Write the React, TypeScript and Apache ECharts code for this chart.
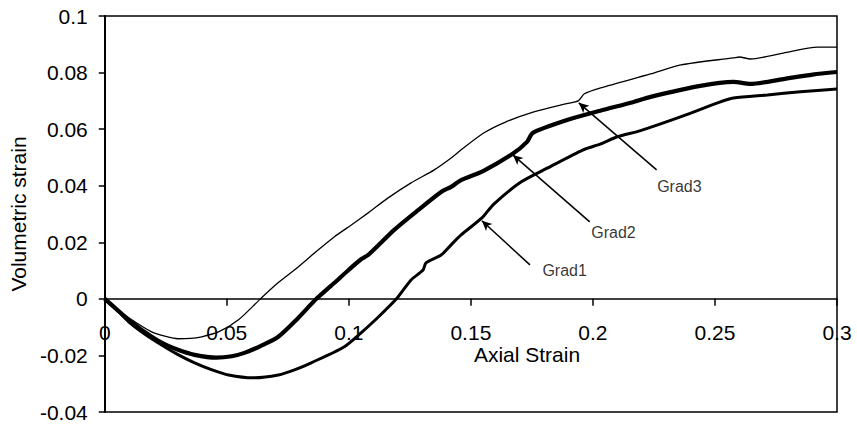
import React, { useEffect, useRef } from "react";
import * as echarts from "echarts";

// Axial strain (x) and volumetric strain (y) for the three gradings
const grad1Strain = [0, 0.005, 0.0098, 0.0165, 0.0233, 0.03, 0.0368, 0.0437, 0.0507, 0.0609, 0.0711, 0.078, 0.0846, 0.098, 0.105, 0.112, 0.1195, 0.1255, 0.1304, 0.1316, 0.1378, 0.1419, 0.146, 0.1545, 0.1594, 0.1705, 0.1815, 0.196, 0.2032, 0.21, 0.2195, 0.237, 0.2514, 0.2576, 0.2715, 0.285, 0.3];
const grad1Vol = [0, -0.0039, -0.0081, -0.0125, -0.0163, -0.0197, -0.0226, -0.025, -0.0269, -0.0279, -0.0269, -0.025, -0.0226, -0.017, -0.012, -0.0065, 0, 0.0067, 0.0102, 0.0127, 0.0155, 0.0191, 0.0226, 0.0286, 0.0335, 0.0413, 0.0463, 0.0527, 0.0548, 0.0573, 0.0595, 0.0647, 0.0694, 0.071, 0.0721, 0.0732, 0.0742];

const grad2Strain = [0, 0.005, 0.0098, 0.0165, 0.0233, 0.03, 0.0368, 0.0458, 0.052, 0.0572, 0.064, 0.0711, 0.079, 0.0867, 0.094, 0.1, 0.105, 0.1079, 0.1186, 0.1284, 0.1378, 0.1419, 0.146, 0.155, 0.167, 0.173, 0.1754, 0.1897, 0.203, 0.2167, 0.2236, 0.244, 0.2576, 0.2645, 0.278, 0.29, 0.3];
const grad2Vol = [0, -0.0038, -0.0074, -0.0118, -0.0155, -0.018, -0.0198, -0.0208, -0.0203, -0.0191, -0.0166, -0.0134, -0.007, 0, 0.0056, 0.0103, 0.014, 0.0155, 0.0244, 0.0314, 0.0378, 0.0396, 0.042, 0.0452, 0.0512, 0.0555, 0.0587, 0.0633, 0.0665, 0.0696, 0.0714, 0.0753, 0.0767, 0.076, 0.0777, 0.0793, 0.0802];

const grad3Strain = [0, 0.005, 0.0098, 0.0192, 0.025, 0.03, 0.035, 0.0397, 0.0466, 0.0548, 0.0638, 0.0705, 0.0777, 0.087, 0.094, 0.101, 0.1079, 0.1161, 0.1255, 0.135, 0.1419, 0.146, 0.1554, 0.1644, 0.1758, 0.187, 0.194, 0.1965, 0.2032, 0.2236, 0.236, 0.2576, 0.26, 0.2645, 0.278, 0.292, 0.3];
const grad3Vol = [0, -0.0036, -0.0067, -0.0117, -0.0133, -0.0141, -0.014, -0.0134, -0.0117, -0.0074, 0, 0.0053, 0.0102, 0.017, 0.0219, 0.0261, 0.0304, 0.0357, 0.041, 0.0456, 0.0498, 0.0527, 0.0587, 0.0626, 0.0661, 0.0686, 0.07, 0.0725, 0.0746, 0.0795, 0.0827, 0.0852, 0.0855, 0.0848, 0.0869, 0.089, 0.089];

// Callout arrows (tail -> head) and their captions, in data units
const calloutNames = ["Grad1", "Grad2", "Grad3"];
const calloutTail = [[0.1742, 0.012], [0.1987, 0.0272], [0.2261, 0.0456]];
const calloutHead = [[0.1545, 0.0276], [0.1672, 0.0509], [0.1942, 0.0693]];
const calloutText = [[0.1791, 0.0102], [0.1991, 0.0233], [0.2261, 0.0396]];

const Y_MIN = -0.04;
const Y_MAX = 0.1;

const FONT = "'Liberation Sans', Arial, sans-serif";

const zip = (xs: number[], ys: number[]) => xs.map((x, i) => [x, ys[i]]);

export default function App() {
  const ref = useRef<HTMLDivElement>(null);

  useEffect(() => {
    if (!ref.current) return;
    const chart = echarts.init(ref.current, undefined, { renderer: "svg" });

    const gridTop = 16;
    const gridBottom = 12;
    const plotH = 424 - gridTop - gridBottom;
    // lift the horizontal axis (line, ticks, labels) up to y = 0
    const zeroOffset = -(plotH * (0 - Y_MIN)) / (Y_MAX - Y_MIN);

    const curves = [
      { name: "Grad1", data: zip(grad1Strain, grad1Vol), width: 3 },
      { name: "Grad2", data: zip(grad2Strain, grad2Vol), width: 4.2 },
      { name: "Grad3", data: zip(grad3Strain, grad3Vol), width: 1.3 },
    ];

    const lineSeries = curves.map((c, i) => ({
      type: "line",
      name: c.name,
      data: c.data,
      showSymbol: false,
      symbol: "none",
      smooth: 0.25,
      lineStyle: { color: "#000", width: c.width },
      z: 3,
      markLine: {
        silent: true,
        symbol: ["none", "arrow"],
        symbolSize: [7, 10],
        label: { show: false },
        lineStyle: { color: "#000", width: 1.5, type: "solid" },
        data: [[{ coord: calloutTail[i] }, { coord: calloutHead[i] }]],
      },
    }));

    const captionSeries = {
      type: "scatter",
      data: calloutText.map((p, i) => ({ value: p, name: calloutNames[i] })),
      symbolSize: 1,
      itemStyle: { color: "transparent" },
      silent: true,
      label: {
        show: true,
        position: "right",
        distance: 0,
        formatter: (p: any) => p.name,
        color: "#000",
        fontFamily: FONT,
        fontSize: 16,
      },
    };

    chart.setOption({
      animation: false,
      backgroundColor: "#fff",
      grid: {
        left: 103,
        right: 20,
        top: gridTop,
        bottom: gridBottom,
        show: true,
        borderColor: "#000",
        borderWidth: 1.5,
        backgroundColor: "transparent",
      },
      xAxis: {
        type: "value",
        min: 0,
        max: 0.3,
        interval: 0.05,
        position: "bottom",
        offset: zeroOffset,
        axisLine: { onZero: false, lineStyle: { color: "#000", width: 1.5 } },
        axisTick: { show: true, inside: false, length: 7, lineStyle: { color: "#000", width: 1.5 } },
        axisLabel: { color: "#000", fontFamily: FONT, fontSize: 21, margin: 23, showMinLabel: true, showMaxLabel: true },
        splitLine: { show: false },
      },
      yAxis: {
        type: "value",
        min: Y_MIN,
        max: Y_MAX,
        interval: 0.02,
        name: "Volumetric strain",
        nameLocation: "middle",
        nameGap: 75,
        nameRotate: 90,
        nameTextStyle: { color: "#000", fontFamily: FONT, fontSize: 21 },
        axisLine: { onZero: false, lineStyle: { color: "#000", width: 2 } },
        axisTick: { show: true, inside: false, length: 6, lineStyle: { color: "#000", width: 1.5 } },
        axisLabel: { color: "#000", fontFamily: FONT, fontSize: 21, margin: 17 },
        splitLine: { show: false },
      },
      graphic: [
        {
          type: "text",
          x: 527,
          y: 354,
          style: {
            text: "Axial Strain",
            fill: "#000",
            font: `21px ${FONT}`,
            textAlign: "center",
            textVerticalAlign: "middle",
          },
        },
      ],
      series: [...lineSeries, captionSeries],
    });

    return () => chart.dispose();
  }, []);

  return (
    <div
      ref={ref}
      style={{ position: "fixed", left: 0, top: 0, width: 857, height: 424, background: "#fff" }}
    />
  );
}
